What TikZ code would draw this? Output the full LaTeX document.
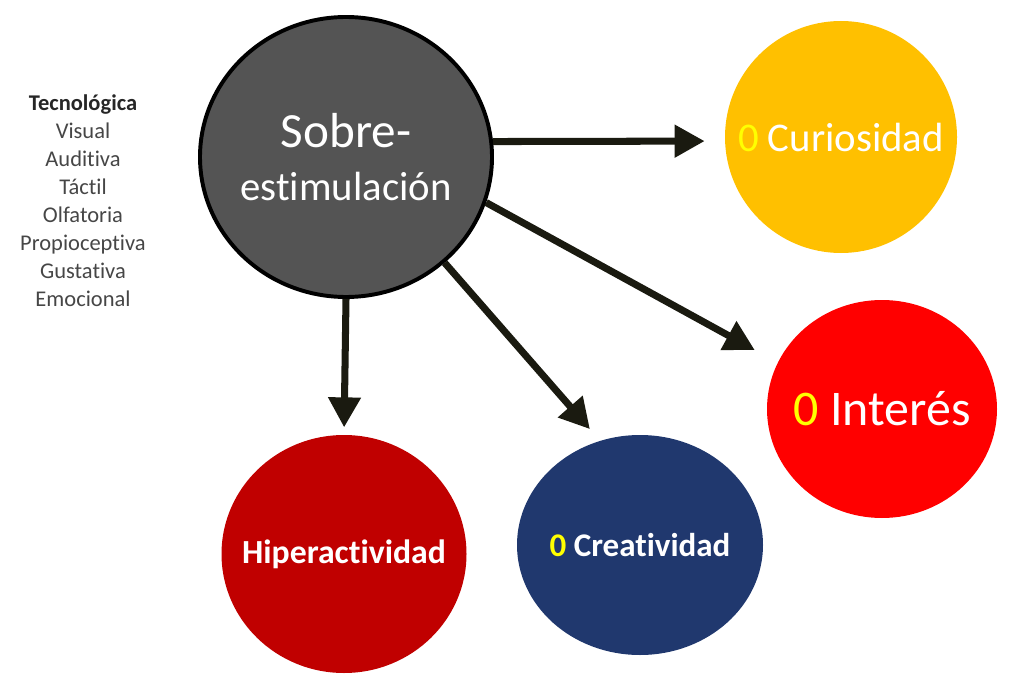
\documentclass[tikz,border=0pt]{standalone}
\usepackage{fontspec}
\setmainfont{Carlito}[Ligatures=NoCommon]
\usepackage{tikz}
\usetikzlibrary{shapes,arrows.meta}

\definecolor{hubgray}{RGB}{84,84,84}
\definecolor{curiogold}{RGB}{255,192,0}
\definecolor{interesred}{RGB}{255,0,0}
\definecolor{creatblue}{RGB}{32,56,110}
\definecolor{hiperred}{RGB}{192,0,0}
\definecolor{zeroyellow}{RGB}{255,255,0}
\definecolor{arrowdark}{RGB}{26,26,16}
\definecolor{listgray}{RGB}{70,70,70}
\definecolor{listdark}{RGB}{38,38,38}

\begin{document}
\begin{tikzpicture}[semithick,
  bubble/.style={ellipse, inner sep=0pt},
  push/.style={draw=arrowdark, line width=5pt, -{Triangle[length=0.75cm,width=0.78cm]}},
  word/.style={text=white, align=center}]

  \useasboundingbox (0,0) rectangle (25.6,17.075);

  \node (senses) at (2.075,12.05) [align=center, text=listgray,
    font=\fontsize{16}{19.9}\selectfont]
    {{\bfseries\color{listdark}Tecnológica}\\ Visual\\ Auditiva\\ Táctil\\
     Olfatoria\\ Propioceptiva\\ Gustativa\\ Emocional};

  \node [bubble,fill=hubgray,draw=black,line width=2.8pt,
    minimum width=7.3cm,minimum height=7cm] (hub) at (8.65,13.15) {};
  \node [bubble,fill=curiogold,minimum width=5.8cm,minimum height=5.8cm] (curio) at (21.025,13.65) {};
  \node [bubble,fill=interesred,minimum width=5.75cm,minimum height=5.45cm] (interes) at (22.05,6.85) {};
  \node [bubble,fill=creatblue,minimum width=6.15cm,minimum height=5.5cm] (creat) at (16,3.45) {};
  \node [bubble,fill=hiperred,minimum width=6.125cm,minimum height=5.95cm] (hiper) at (8.6,3.225) {};

  \path
    (hub.6)     edge [push, shorten >=0.5cm]  (curio.182)
    (hub.-18)   edge [push, shorten >=0.65cm] (interes.156)
    (hub.-47)   edge [push, shorten >=0.38cm] (creat.111)
    (hub.south) edge [push, shorten >=0.18cm] (hiper.north)
  ;

  \begin{scope}[word]
    \node (hubText) at (hub) [font=\fontsize{29}{37.7}\selectfont]
      {{\fontsize{35}{37.7}\selectfont Sobre-}\\ estimulación};
    \node (curioText) at (curio) [font=\fontsize{29}{34}\selectfont]
      {{\color{zeroyellow}0} Curiosidad};
    \node (interesText) at (interes) [font=\fontsize{35.5}{40}\selectfont]
      {{\color{zeroyellow}0} Interés};
    \node (creatText) at (creat) [font=\bfseries\fontsize{23.5}{28}\selectfont]
      {{\color{zeroyellow}0} Creatividad};
    \node (hiperText) at (hiper) [font=\bfseries\fontsize{24}{28}\selectfont]
      {Hiperactividad};
  \end{scope}

\end{tikzpicture}
\end{document}
